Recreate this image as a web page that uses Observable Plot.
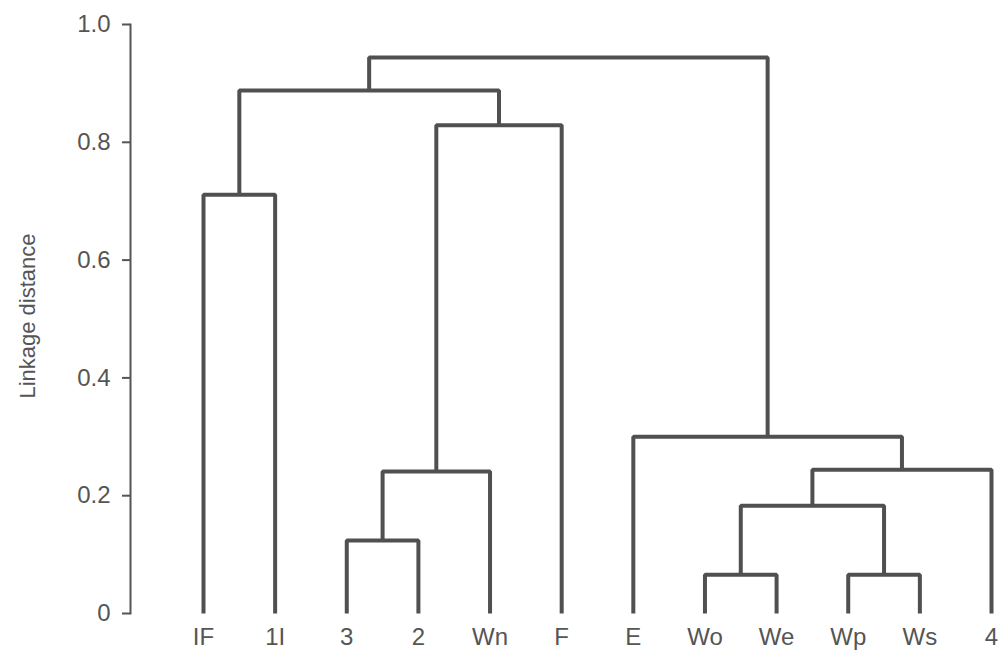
<!DOCTYPE html>
<html><head><meta charset="utf-8">
<script src="https://cdn.jsdelivr.net/npm/d3@7"></script>
<script src="https://cdn.jsdelivr.net/npm/@observablehq/plot@0.6"></script>
<style>body{margin:0;background:#fff;} #chart svg{display:block;}</style>
</head><body><div id="chart"></div>
<script>
const leafLabels = ["IF","1I","3","2","Wn","F","E","Wo","We","Wp","Ws","4"];
// merges: node ids 0-11 are leaves, merge k creates node 12+k
const mergeLeft   = [0, 2, 13, 14, 12, 7, 9, 17, 19, 6, 16];
const mergeRight  = [1, 3, 4, 5, 15, 8, 10, 18, 11, 20, 21];
const mergeHeight = [0.711, 0.124, 0.241, 0.829, 0.888, 0.066, 0.066, 0.183, 0.244, 0.300, 0.944];
const yTicks = [0, 0.2, 0.4, 0.6, 0.8, 1.0];
const yTickLabels = ["0", "0.2", "0.4", "0.6", "0.8", "1.0"];
const yLabel = "Linkage distance";

const nodeX = leafLabels.map((_, i) => i);
const nodeH = leafLabels.map(() => 0);
const paths = [];
mergeLeft.forEach((l, k) => {
  const r = mergeRight[k], h = mergeHeight[k];
  paths.push(
    {id: k, x: nodeX[l], y: nodeH[l]},
    {id: k, x: nodeX[l], y: h},
    {id: k, x: nodeX[r], y: h},
    {id: k, x: nodeX[r], y: nodeH[r]}
  );
  nodeX.push((nodeX[l] + nodeX[r]) / 2);
  nodeH.push(h);
});

const chart = Plot.plot({
  width: 1000,
  height: 661,
  marginLeft: 130,
  marginRight: 0,
  marginTop: 24,
  marginBottom: 48,
  style: {fontFamily: "'Liberation Sans', Arial, sans-serif", color: "#555", background: "#fff"},
  x: {domain: [0, leafLabels.length - 1], range: [203, 991]},
  y: {domain: [0, 1], range: [613, 24]},
  marks: [
    Plot.frame({anchor: "left", stroke: "#555", strokeWidth: 2}),
    Plot.axisY({ticks: yTicks, tickFormat: d => yTickLabels[yTicks.indexOf(d)], tickSize: 8, tickPadding: 12, fontSize: 24, strokeWidth: 2, label: null}),
    Plot.axisX({ticks: d3.range(leafLabels.length), tickFormat: i => leafLabels[i], tickSize: 0, tickPadding: 14, fontSize: 24, label: null}),
    Plot.line(paths, {x: "x", y: "y", z: "id", stroke: "#505050", strokeWidth: 4, strokeLinejoin: "miter", strokeLinecap: "butt", curve: "linear"}),
    Plot.text([yLabel], {text: d => d, frameAnchor: "left", textAnchor: "middle", dx: -103, dy: -3, rotate: -90, fontSize: 22, fill: "#555"})
  ]
});
document.getElementById("chart").append(chart);
</script>
</body></html>
